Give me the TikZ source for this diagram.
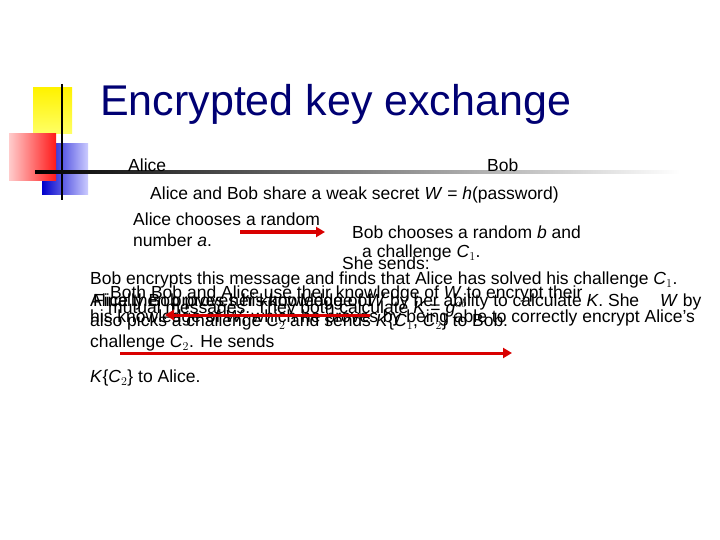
\documentclass[tikz,border=0pt]{standalone}
\usepackage{fontspec}
\setmainfont{Liberation Sans}
\usetikzlibrary{arrows.meta}
\begin{document}
\begin{tikzpicture}[x=1pt,y=-1pt,
 t/.style={anchor=west,inner sep=0pt,font=\fontsize{17.5}{19}\selectfont},
 arr/.style={red!85!black,line width=3pt,-{Triangle[length=9pt,width=10pt]}}]
\useasboundingbox (0,0) rectangle (720,540);
\fill[white] (0,0) rectangle (720,540);
\shade[top color=yellow!90!orange,bottom color=yellow!60] (33,88) rectangle (72,134);
\shade[left color=blue!80!black,right color=blue!20] (42,144) rectangle (88,195);
\shade[left color=red!20,right color=red!90] (9,134) rectangle (56,181);
\draw[line width=1.2pt] (62,84) -- (62,200);
\shade[left color=black,right color=white] (35,171) rectangle (680,174);
\node[anchor=west,inner sep=0pt,font=\fontsize{43}{46}\selectfont,text=blue!45!black] (title) at (100,104) {Encrypted key exchange};
\node[t] (alice) at (128,165) {Alice};
\node[t] (bob) at (487,165) {Bob};
\node[t] (l1) at (150,195) {Alice and Bob share a weak secret \textit{W} = \textit{h}(password)};
\node[t] (l2) at (133,219) {Alice chooses a random};
\node[t] (l3) at (133,240) {number \textit{a}.};
\node[t] (l4) at (352,232) {Bob chooses a random \textit{b} and};
\node[t] (l5) at (362,253) {a challenge \textit{C}$_1$.};
\node[t] (l6) at (342,263) {She sends:};
\node[t] (l7) at (90,280) {Bob encrypts this message and finds that Alice has solved his challenge \textit{C}$_1$.};
\node[t] (l8) at (110,294) {Both Bob and Alice use their knowledge of \textit{W} to encrypt their};
\node[t] (l9) at (90,302) {Alice then proves her knowledge of \textit{W} by her ability to calculate \textit{K}. She};
\node[t] (l9b) at (93,302) {Finally Bob proves his knowledge of};
\node[t] (l9c) at (660,302) {\textit{W} by};
\node[t] (l10) at (108,308) {mutual messages. They both calculate \textit{K} = \textit{g}$^{ab}$};
\node[t] (l11) at (90,322) {also picks a challenge \textit{C}$_2$ and sends \textit{K}\{\textit{C}$_1$, \textit{C}$_2$\} to Bob.};
\node[t] (l11b) at (90,318) {his knowledge of \textit{W}, which he proves by being able to correctly encrypt Alice's};
\node[t] (l12) at (90,343) {challenge \textit{C}$_2$. He sends};
\node[t] (l13) at (90,378) {\textit{K}\{\textit{C}$_2$\} to Alice.};
\coordinate (a1s) at (240,232); \coordinate (a1e) at (325,232);
\draw[arr] (a1s) -- (a1e);
\coordinate (a2s) at (370,315); \coordinate (a2e) at (165,315);
\draw[arr] (a2s) -- (a2e);
\coordinate (a3s) at (120,353); \coordinate (a3e) at (512,353);
\draw[arr] (a3s) -- (a3e);
\end{tikzpicture}
\end{document}
